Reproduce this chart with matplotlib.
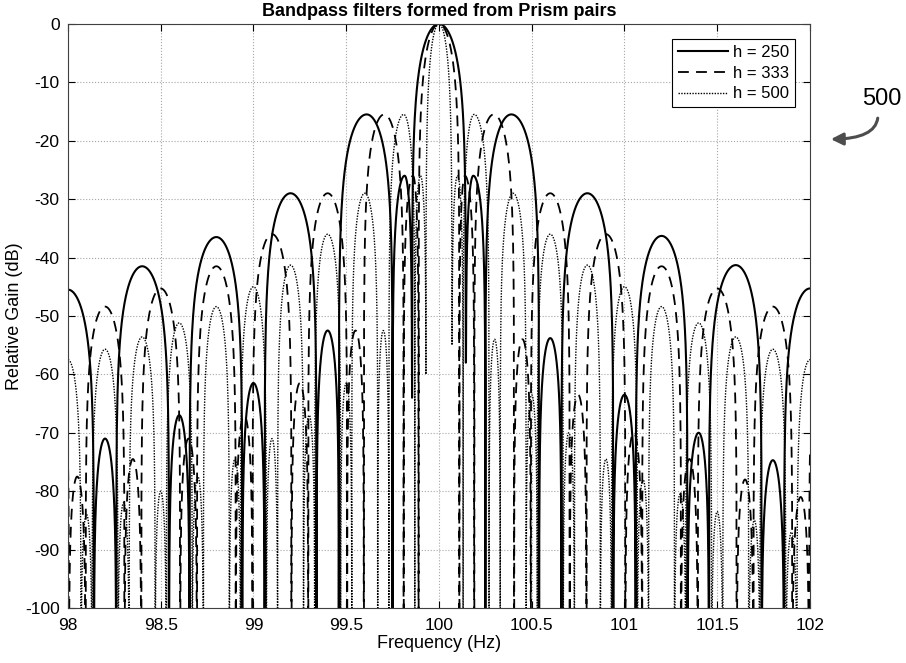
import numpy as np
import matplotlib
matplotlib.use("Agg")
import matplotlib.pyplot as plt

plt.rcParams['font.family'] = ['Liberation Sans', 'DejaVu Sans']
plt.rcParams['axes.unicode_minus'] = False

# lobe data: null frequencies, lobe peak frequency, lobe peak gain (dB)
h250_nulls = [97.86, 98.14, 98.26, 98.545, 98.655, 98.94, 99.06, 99.34, 99.46, 99.75, 99.855,
              100.145, 100.25, 100.54, 100.66, 100.94, 101.06, 101.34, 101.455, 101.74, 101.86, 102.14]
h250_pk_f = [98.0, 98.2, 98.4, 98.6, 98.8, 99.0, 99.2, 99.4, 99.61, 99.815, 100.0,
             100.185, 100.39, 100.6, 100.8, 101.0, 101.2, 101.4, 101.6, 101.8, 102.0]
h250_pk_db = [-45.5, -71, -41.5, -67, -36.5, -61.5, -29, -52.5, -15.5, -26, 0,
              -26, -15.5, -53.8, -29, -63.5, -36.3, -70, -41.3, -74.7, -45.3]
h250_floor = {99.855: -64, 100.145: -58}

h333_nulls = [97.795, 98.005, 98.095, 98.305, 98.395, 98.605, 98.695, 98.905, 98.995, 99.205,
              99.295, 99.505, 99.595, 99.81, 99.89, 100.11, 100.19, 100.405, 100.495, 100.705,
              100.795, 101.005, 101.095, 101.305, 101.395, 101.605, 101.695, 101.905, 101.995, 102.205]
h333_pk_f = [97.9, 98.05, 98.2, 98.35, 98.5, 98.65, 98.8, 98.95, 99.1, 99.25, 99.4, 99.55,
             99.705, 99.86, 100.0, 100.14, 100.295, 100.45, 100.6, 100.75, 100.9, 101.05,
             101.2, 101.35, 101.5, 101.65, 101.8, 101.95, 102.1]
h333_pk_db = [-51.2, -77.5, -48.4, -74.5, -45.3, -71, -41.5, -67, -36, -61.5, -29, -52.5,
              -15.5, -26, 0, -26, -15.5, -54, -29, -63.5, -36, -70,
              -41.5, -74.5, -45.3, -78, -48.4, -81, -51]
h333_floor = {}

h500_nulls = [97.93, 98.07, 98.13, 98.27, 98.33, 98.47, 98.53, 98.67, 98.73, 98.87, 98.93,
              99.07, 99.13, 99.27, 99.33, 99.47, 99.53, 99.67, 99.73, 99.87, 99.93,
              100.07, 100.13, 100.27, 100.33, 100.47, 100.53, 100.67, 100.73, 100.87, 100.93,
              101.07, 101.13, 101.27, 101.33, 101.47, 101.53, 101.67, 101.73, 101.87, 101.93, 102.07]
h500_pk_f = [98.0, 98.1, 98.2, 98.3, 98.4, 98.5, 98.6, 98.7, 98.8, 98.9, 99.0, 99.1, 99.2,
             99.3, 99.4, 99.5, 99.6, 99.7, 99.81, 99.9, 100.0, 100.1, 100.19, 100.3, 100.4,
             100.5, 100.6, 100.7, 100.8, 100.9, 101.0, 101.1, 101.2, 101.3, 101.4, 101.5,
             101.6, 101.7, 101.8, 101.9, 102.0]
h500_pk_db = [-57.5, -84, -55.7, -82, -53.6, -80, -51.2, -77.5, -48.4, -74.5, -45, -71, -41.3,
              -67, -36, -61.5, -29, -52.5, -15.5, -26, 0, -26, -15.5, -54, -29,
              -63.5, -36, -70, -41.3, -74.5, -45, -78, -48.4, -80.5, -51.2, -83.5,
              -53.6, -85, -55.7, -87, -57.5]
h500_floor = {99.93: -60, 100.07: -55}

labels = ['h = 250', 'h = 333', 'h = 500']


def lobes(nulls, pk_f, pk_db, floor, n=160):
    fs, gs = [], []
    for i in range(len(pk_db)):
        a, b, p = nulls[i], nulls[i + 1], pk_f[i]
        x = np.linspace(a, b, n)
        t = np.where(x < p, 0.5 * (x - a) / (p - a), 0.5 + 0.5 * (x - p) / (b - p))
        g = pk_db[i] + 20 * np.log10(np.maximum(np.sin(np.pi * t), 1e-7))
        fl_a = floor.get(a, -300)
        fl_b = floor.get(b, -300)
        g = np.where(t < 0.5, np.maximum(g, fl_a), np.maximum(g, fl_b))
        fs.append(x)
        gs.append(g)
    return np.concatenate(fs), np.concatenate(gs)


fig = plt.figure(figsize=(9.06, 6.63), dpi=100)
ax = fig.add_axes([0.075, 0.083, 0.819, 0.881])

f, g = lobes(h250_nulls, h250_pk_f, h250_pk_db, h250_floor)
ax.plot(f, g, color='black', lw=1.5, ls='-', label=labels[0])
f, g = lobes(h333_nulls, h333_pk_f, h333_pk_db, h333_floor)
ax.plot(f, g, color='black', lw=1.3, ls=(0, (6, 4)), label=labels[1])
f, g = lobes(h500_nulls, h500_pk_f, h500_pk_db, h500_floor)
ax.plot(f, g, color='black', lw=1.0, ls=(0, (1, 1)), label=labels[2])

ax.set_xlim(98, 102)
ax.set_ylim(-100, 0)
ax.set_xticks(np.arange(98, 102.01, 0.5))
ax.set_xticklabels(['98', '98.5', '99', '99.5', '100', '100.5', '101', '101.5', '102'])
ax.set_yticks(np.arange(-100, 1, 10))
ax.grid(True, ls=':', color='0.65', lw=0.8)
ax.tick_params(direction='in', top=True, right=True, labelsize=12.5, length=5, width=0.8)
ax.tick_params(axis='x', pad=7)
ax.tick_params(axis='y', pad=6)
for s in ax.spines.values():
    s.set_linewidth(0.8)
    s.set_color('0.25')

ax.set_xlabel('Frequency (Hz)', fontsize=13, labelpad=2)
ax.set_ylabel('Relative Gain (dB)', fontsize=13, labelpad=1)
ax.set_title('Bandpass filters formed from Prism pairs', fontsize=13, fontweight='bold', pad=6)

leg = ax.legend(loc='upper right', fontsize=12, handlelength=3.0, fancybox=False,
                edgecolor='black', framealpha=1, borderaxespad=0.9, labelspacing=0.35,
                handletextpad=0.3, borderpad=0.35)
leg.get_frame().set_linewidth(0.8)

fig.text(0.973, 0.85, '500', fontsize=17, ha='center', va='center')
ax.annotate('', xy=(0.914, 0.79), xycoords='figure fraction',
            xytext=(0.969, 0.826), textcoords='figure fraction',
            arrowprops=dict(arrowstyle='-|>', color='0.3', lw=2.2, mutation_scale=18,
                            connectionstyle='angle3,angleA=90,angleB=0'))

fig.savefig('out.png', dpi=100)
